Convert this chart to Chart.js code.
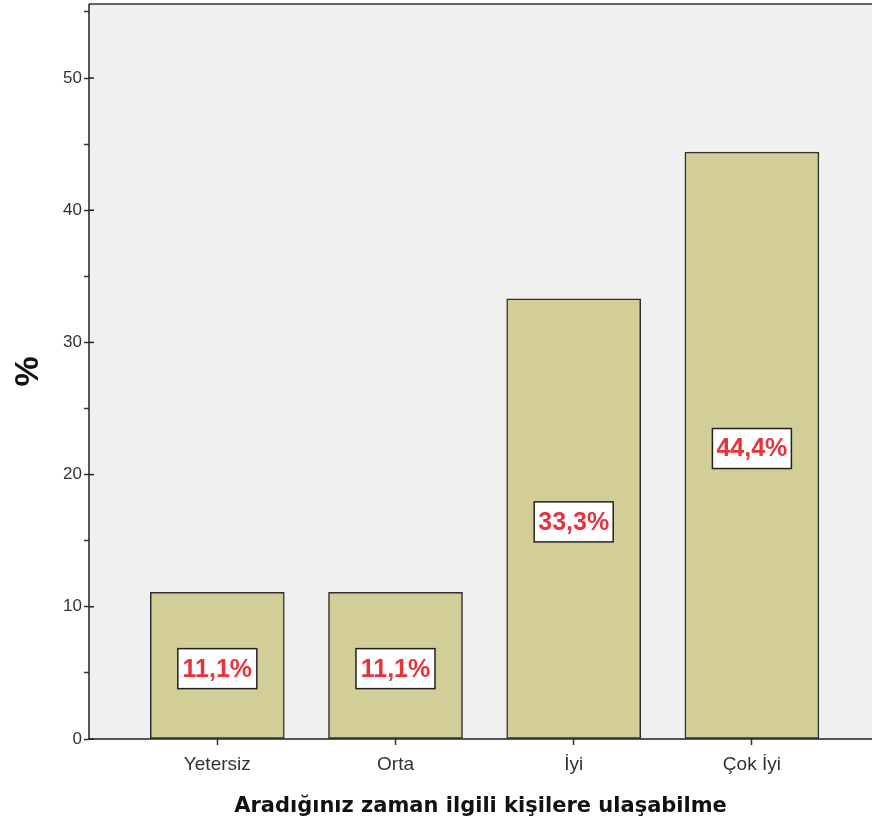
<!DOCTYPE html>
<html>
<head>
<meta charset="utf-8">
<script src="https://cdn.jsdelivr.net/npm/chart.js@4"></script>
<style>
  html, body { margin: 0; padding: 0; background: #fff; }
  #wrap { width: 872px; height: 825px; }
</style>
</head>
<body>
<div id="wrap"><canvas id="chart" width="872" height="825"></canvas></div>
<script>
const categories = ["Yetersiz", "Orta", "\u0130yi", "\u00c7ok \u0130yi"];
const percents = [11.1, 11.1, 33.3, 44.4];
const barLabels = ["11,1%", "11,1%", "33,3%", "44,4%"];
const yTicks = [0, 10, 20, 30, 40, 50];

// plot background + top border, drawn behind the bars
const plotBg = {
  id: 'plotBg',
  beforeDatasetsDraw(chart) {
    const {ctx, chartArea: {left, top, right, bottom}} = chart;
    ctx.save();
    ctx.fillStyle = '#f0f0f0';
    ctx.fillRect(left, top, right - left, bottom - top);
    ctx.strokeStyle = '#333';
    ctx.lineWidth = 1.5;
    ctx.beginPath();
    ctx.moveTo(left, top);
    ctx.lineTo(right, top);
    ctx.stroke();
    ctx.restore();
  },
  afterDatasetsDraw(chart) {
    const {ctx, chartArea: {left, top, bottom, right}, scales: {y}} = chart;
    ctx.save();
    ctx.strokeStyle = '#222';
    ctx.lineWidth = 1.5;
    // axis lines
    ctx.beginPath();
    ctx.moveTo(left, top);
    ctx.lineTo(left, bottom);
    ctx.lineTo(right, bottom);
    ctx.stroke();
    // major ticks poke into the plot a bit
    yTicks.forEach(v => {
      const py = y.getPixelForValue(v);
      ctx.beginPath();
      ctx.moveTo(left, py);
      ctx.lineTo(left + 5, py);
      ctx.stroke();
    });
    ctx.restore();
  }
};

// white boxes with red percentages in the middle of each bar
const innerLabels = {
  id: 'innerLabels',
  afterDatasetsDraw(chart) {
    const {ctx, scales: {y}} = chart;
    const meta = chart.getDatasetMeta(0);
    ctx.save();
    ctx.font = 'bold 25px "Liberation Sans", Arial, sans-serif';
    ctx.textAlign = 'center';
    ctx.textBaseline = 'middle';
    meta.data.forEach((bar, i) => {
      const cy = y.getPixelForValue(percents[i] / 2) + 3;
      const w = 79, h = 40;
      ctx.fillStyle = '#fff';
      ctx.fillRect(bar.x - w / 2, cy - h / 2, w, h);
      ctx.strokeStyle = '#222';
      ctx.lineWidth = 1.5;
      ctx.strokeRect(bar.x - w / 2, cy - h / 2, w, h);
      ctx.fillStyle = '#e8323c';
      ctx.fillText(barLabels[i], bar.x, cy + 1);
    });
    ctx.restore();
  }
};

new Chart(document.getElementById('chart').getContext('2d'), {
  type: 'bar',
  data: {
    datasets: [{
      data: percents.map((v, i) => ({x: i, y: v})),
      backgroundColor: '#d3ce98',
      borderColor: '#2e2e2e',
      borderWidth: 1.5,
      borderSkipped: false,
      barThickness: 134
    }]
  },
  options: {
    responsive: false,
    animation: false,
    layout: { padding: { top: 4, right: 0, left: 0, bottom: 2 } },
    plugins: { legend: { display: false }, tooltip: { enabled: false } },
    scales: {
      x: {
        type: 'linear',
        offset: false,
        min: -0.72,
        max: 3.674,
        afterBuildTicks: (scale) => { scale.ticks = categories.map((c, i) => ({value: i})); },
        afterFit: (scale) => { scale.height = 84; scale.paddingRight = 0; scale.paddingLeft = 0; },
        grid: { offset: false, drawOnChartArea: false, tickLength: 6, tickColor: '#333', tickWidth: 1.5 },
        border: { display: false },
        ticks: {
          autoSkip: false,
          maxRotation: 0,
          padding: 8,
          color: '#333',
          font: { family: '"Liberation Sans", Arial, sans-serif', size: 19 },
          callback: (v) => categories[v]
        },
        title: {
          display: true,
          text: 'Arad\u0131\u011f\u0131n\u0131z zaman ilgili ki\u015filere ula\u015fabilme',
          color: '#111',
          font: { family: '"DejaVu Sans", sans-serif', size: 21, weight: 'bold' },
          padding: { top: 10 }
        }
      },
      y: {
        min: 0,
        max: 55.6,
        afterBuildTicks: (scale) => {
          const t = [];
          for (let v = 0; v <= 55; v += 5) t.push({value: v});
          scale.ticks = t;
        },
        afterFit: (scale) => { scale.width = 89; scale.paddingTop = 0; scale.paddingBottom = 0; },
        grid: { drawOnChartArea: false, tickLength: 5, tickColor: '#333', tickWidth: 1.5 },
        border: { display: false },
        ticks: {
          padding: 2,
          color: '#333',
          font: { family: '"Liberation Sans", Arial, sans-serif', size: 17 },
          callback: (v) => (yTicks.includes(v) ? String(v) : '')
        },
        title: {
          display: true,
          text: '%',
          color: '#111',
          font: { family: '"Liberation Sans", Arial, sans-serif', size: 34, weight: 'bold' },
          padding: { top: 8, bottom: 0 }
        }
      }
    }
  },
  plugins: [plotBg, innerLabels]
});
</script>
</body>
</html>
